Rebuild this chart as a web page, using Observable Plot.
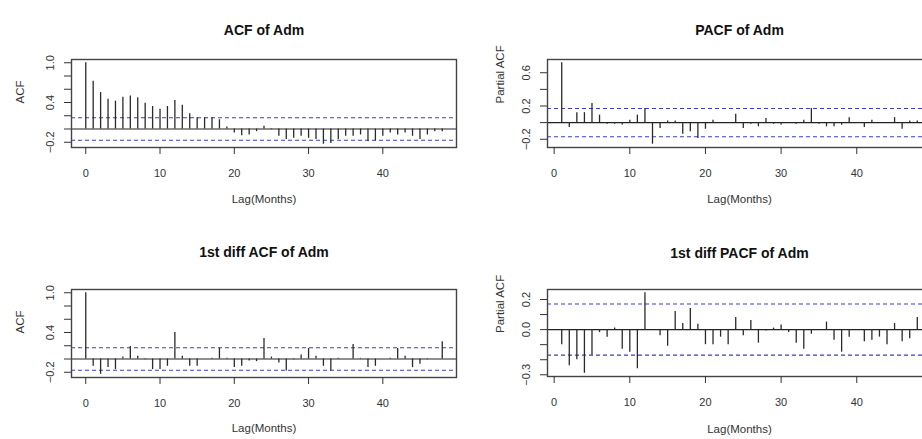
<!DOCTYPE html>
<html>
<head>
<meta charset="utf-8">
<script src="https://cdn.jsdelivr.net/npm/d3@7"></script>
<script src="https://cdn.jsdelivr.net/npm/@observablehq/plot@0.6"></script>
<style>
  html, body { margin: 0; padding: 0; background: #fff; }
  #chart { position: relative; width: 922px; height: 439px; overflow: hidden; background: #fff; }
  #chart > svg { position: absolute; overflow: visible; }
</style>
</head>
<body>
<div id="chart"></div>
<script>
// Autocorrelation of monthly admissions, lags 0..48
const acfAdm = [1.00, 0.72, 0.55, 0.45, 0.42, 0.48, 0.50, 0.47, 0.39, 0.34, 0.30, 0.34, 0.43, 0.36, 0.23, 0.17, 0.17, 0.17, 0.14, 0.03,
  -0.06, -0.10, -0.09, -0.04, 0.04, -0.01, -0.11, -0.16, -0.14, -0.11, -0.14, -0.16, -0.23, -0.22, -0.16, -0.11, -0.11, -0.09, -0.19, -0.18,
  -0.11, -0.06, -0.09, -0.06, -0.11, -0.16, -0.09, -0.04, -0.04];

// Partial autocorrelation, lags 1..48
const pacfAdm = [0.72, -0.06, 0.12, 0.12, 0.23, 0.09, -0.02, -0.02, -0.03, 0.03, 0.09, 0.17, -0.26, -0.07, 0.02, 0.02, -0.14, -0.11, -0.19, -0.08,
  0.03, -0.01, 0.00, 0.10, -0.07, -0.02, -0.05, 0.05, -0.02, -0.03, -0.01, -0.02, 0.03, 0.17, -0.02, -0.05, -0.05, -0.03, 0.06, -0.01,
  -0.06, 0.03, -0.01, 0.00, 0.06, -0.08, 0.02, 0.02];

// Autocorrelation of the first-differenced series, lags 0..48
const diffAcfAdm = [1.00, -0.11, -0.23, -0.13, -0.16, 0.03, 0.19, 0.04, -0.01, -0.16, -0.16, -0.11, 0.40, 0.04, -0.11, -0.11, 0.00, 0.01, 0.16, 0.01,
  -0.13, -0.11, -0.03, -0.04, 0.31, 0.03, -0.06, -0.18, -0.01, 0.06, 0.16, 0.04, -0.11, -0.18, 0.01, 0.00, 0.22, 0.01, -0.13, -0.11,
  0.00, 0.01, 0.16, 0.04, -0.13, -0.08, -0.01, 0.00, 0.26];

// Partial autocorrelation of the first-differenced series, lags 1..48
const diffPacfAdm = [-0.10, -0.24, -0.20, -0.29, -0.17, -0.02, -0.05, 0.01, -0.13, -0.15, -0.26, 0.245, 0.00, -0.04, -0.11, 0.12, 0.04, 0.14, 0.035, -0.10,
  -0.10, -0.05, -0.10, 0.08, -0.04, 0.06, -0.09, -0.01, 0.01, 0.03, -0.02, -0.09, -0.13, -0.03, 0.00, 0.05, -0.07, -0.15, -0.05, 0.00,
  -0.08, -0.07, -0.05, -0.10, 0.04, -0.08, -0.06, 0.08];

// 95% significance bound, ±1.96/sqrt(n)
const confBound = 0.17;

const xTicks = [0, 10, 20, 30, 40];
const acfYTicks = [-0.2, 0, 0.2, 0.4, 0.6, 0.8, 1.0];
const acfYLabels = [-0.2, 0.4, 1.0];
const pacfYTicks = [-0.2, 0, 0.2, 0.4, 0.6];
const pacfYLabels = [-0.2, 0.2, 0.6];
const diffPacfYTicks = [-0.3, -0.2, -0.1, 0, 0.1, 0.2];
const diffPacfYLabels = [-0.3, 0, 0.2];

const titles = ["ACF of Adm", "PACF of Adm", "1st diff ACF of Adm", "1st diff PACF of Adm"];
const yTitles = ["ACF", "Partial ACF", "ACF", "Partial ACF"];
const xTitle = "Lag(Months)";

const FONT = "'Liberation Sans', Arial, Helvetica, sans-serif";
const chart = document.getElementById("chart");

// R-style 4% padding of a data range
function padded([lo, hi], f = 0.04) {
  const d = (hi - lo) * f;
  return [lo - d, hi + d];
}

function correlogram({values, firstLag, title, yTitle, yTicks, yLabels, box}) {
  const data = values.map((v, i) => ({lag: i + firstLag, value: v}));
  const xDomain = padded(d3.extent(data, d => d.lag));
  const yDomain = padded(d3.extent([...values, confBound, -confBound]));
  const fmt = d3.format(".1f");

  const svg = Plot.plot({
    width: box.width,
    height: box.height,
    marginLeft: box.ml,
    marginRight: box.mr,
    marginTop: box.mt,
    marginBottom: box.mb,
    x: {domain: xDomain},
    y: {domain: yDomain},
    style: {fontFamily: FONT, fontSize: "11px", color: "#333", background: "transparent", overflow: "visible"},
    marks: [
      Plot.ruleY([confBound, -confBound], {stroke: "#3c3cc8", strokeWidth: 1.2, strokeDasharray: "4,3"}),
      Plot.ruleY([0], {stroke: "#222", strokeWidth: 1.2}),
      Plot.ruleX(data, {x: "lag", y1: 0, y2: "value", stroke: "#2a2a2a", strokeWidth: 1.3}),
      Plot.frame({stroke: "#444", strokeWidth: 1.4}),
      Plot.axisX({ticks: xTicks, tickSize: 7, tickPadding: 15, tickFormat: d3.format("d"), label: null}),
      Plot.axisY({ticks: yTicks, tickSize: 7, tickFormat: () => "", label: null}),
      Plot.axisY({ticks: yLabels, tickSize: 0, tickRotate: -90, tickPadding: 18, tickFormat: fmt, label: null}),
      Plot.text([title], {text: d => d, frameAnchor: "top", dy: box.titleDy, fontSize: 14, fontWeight: "bold", fill: "#111"}),
      Plot.text([yTitle], {text: d => d, frameAnchor: "left", dx: box.yTitleDx, rotate: -90, fontSize: 11.5, fill: "#333"}),
      Plot.text([xTitle], {text: d => d, frameAnchor: "bottom", dy: box.xTitleDy, fontSize: 11.5, fill: "#333"})
    ]
  });
  svg.style.left = box.left + "px";
  svg.style.top = box.top + "px";
  chart.appendChild(svg);
}

correlogram({
  values: acfAdm, firstLag: 0, title: titles[0], yTitle: yTitles[0], yTicks: acfYTicks, yLabels: acfYLabels,
  box: {left: 0, top: 0, width: 461, height: 220, ml: 71, mr: 5, mt: 59, mb: 73, titleDy: -34, yTitleDx: -51, xTitleDy: 55}
});
correlogram({
  values: pacfAdm, firstLag: 1, title: titles[1], yTitle: yTitles[1], yTicks: pacfYTicks, yLabels: pacfYLabels,
  box: {left: 461, top: 0, width: 475, height: 220, ml: 86, mr: 5, mt: 59, mb: 73, titleDy: -34, yTitleDx: -47, xTitleDy: 55}
});
correlogram({
  values: diffAcfAdm, firstLag: 0, title: titles[2], yTitle: yTitles[2], yTicks: acfYTicks, yLabels: acfYLabels,
  box: {left: 0, top: 220, width: 461, height: 219, ml: 71, mr: 5, mt: 69, mb: 62, titleDy: -42, yTitleDx: -51, xTitleDy: 54}
});
correlogram({
  values: diffPacfAdm, firstLag: 1, title: titles[3], yTitle: yTitles[3], yTicks: diffPacfYTicks, yLabels: diffPacfYLabels,
  box: {left: 461, top: 220, width: 475, height: 219, ml: 86, mr: 5, mt: 69, mb: 63, titleDy: -41, yTitleDx: -47, xTitleDy: 56}
});
</script>
</body>
</html>
